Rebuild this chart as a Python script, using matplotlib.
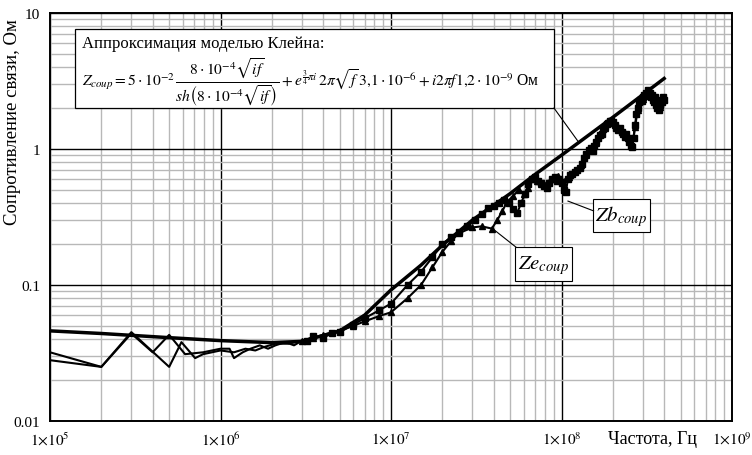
import numpy as np
import matplotlib
matplotlib.use("Agg")
import matplotlib.pyplot as plt
from matplotlib.patches import Rectangle

plt.rcParams['font.family'] = ['Liberation Serif', 'DejaVu Serif']
plt.rcParams['mathtext.fontset'] = 'stix'

# model curve (Klein approximation), MHz / Ohm
model_f = [0.1, 0.2, 0.5, 1, 2, 3, 5, 7, 10, 15, 20, 30, 50, 70, 100, 200, 300, 400]
model_z = [0.046, 0.044, 0.041, 0.039, 0.0377, 0.0385, 0.046, 0.06, 0.092, 0.14, 0.196,
           0.30, 0.47, 0.65, 0.90, 1.71, 2.51, 3.30]

# Zb_coup (squares)
zb_f = [0.1, 0.2, 0.3, 0.4, 0.5, 0.62, 0.79, 1.0, 1.13, 1.2, 1.35, 1.5, 1.7, 1.9, 2.1, 2.4,
        2.7, 2.9, 3.2, 3.5, 4.0, 4.5, 5.0, 6.0, 7.0, 8.5, 10, 12.5, 15, 17.5, 20, 22.5, 25,
        28, 31, 34, 37, 40, 43, 46, 49, 52, 55, 58, 61, 64, 67, 70, 73, 76, 79, 82, 85, 88,
        91, 94, 97, 100, 103, 106, 109, 112, 116, 120, 124, 128, 132, 136, 140, 144, 148,
        152, 156, 160, 164, 168, 172, 176, 180, 184, 188, 192, 196, 200, 205, 210, 215, 220,
        225, 230, 235, 240, 245, 250, 255, 260, 265, 270, 275, 280, 285, 290, 295, 300, 305,
        310, 315, 320, 325, 330, 335, 340, 345, 350, 355, 360, 365, 370, 375, 380, 385, 390,
        395, 400]
zb_z = [0.032, 0.025, 0.044, 0.032, 0.043, 0.031, 0.032, 0.034, 0.034, 0.029, 0.032, 0.034,
        0.036, 0.034, 0.036, 0.038, 0.036, 0.038, 0.039, 0.042, 0.041, 0.044, 0.045, 0.051,
        0.057, 0.065, 0.073, 0.10, 0.125, 0.16, 0.20, 0.225, 0.245, 0.27, 0.30, 0.33, 0.37,
        0.38, 0.40, 0.42, 0.40, 0.36, 0.34, 0.40, 0.47, 0.55, 0.60, 0.62, 0.58, 0.56, 0.53,
        0.52, 0.56, 0.60, 0.62, 0.58, 0.60, 0.56, 0.50, 0.48, 0.60, 0.64, 0.66, 0.68, 0.70,
        0.72, 0.78, 0.86, 0.92, 0.98, 1.02, 0.96, 1.06, 1.12, 1.20, 1.26, 1.30, 1.40, 1.46,
        1.52, 1.56, 1.60, 1.62, 1.58, 1.50, 1.42, 1.38, 1.42, 1.34, 1.30, 1.22, 1.30, 1.20,
        1.12, 1.06, 1.04, 1.20, 1.50, 1.80, 2.00, 2.20, 2.30, 2.25, 2.40, 2.50, 2.45, 2.60,
        2.70, 2.55, 2.60, 2.40, 2.50, 2.30, 2.20, 2.40, 2.10, 2.00, 2.20, 1.95, 2.10, 2.30,
        2.20, 2.40, 2.30]

# Ze_coup (triangles)
ze_f = [0.1, 0.2, 0.3, 0.5, 0.59, 0.71, 0.79, 1.0, 1.2, 1.4, 1.6, 1.8, 2.1, 2.5, 3.0, 3.5,
        4.0, 5.0, 6.0, 7.0, 8.5, 10, 12.5, 15, 17.5, 20, 22.5, 25, 30, 34, 39, 42, 45, 48, 52,
        56, 60, 64, 68, 72, 76, 80, 85, 90, 95, 100, 110, 120, 130, 140, 150, 160, 170, 180,
        190, 200, 210, 220, 230, 240, 250, 260, 270, 280, 290, 300, 310, 320, 330, 340, 350,
        360, 370, 380, 390, 400]
ze_z = [0.028, 0.025, 0.045, 0.025, 0.038, 0.029, 0.031, 0.033, 0.032, 0.034, 0.033, 0.035,
        0.037, 0.037, 0.039, 0.041, 0.043, 0.046, 0.050, 0.054, 0.059, 0.063, 0.08, 0.10,
        0.135, 0.175, 0.21, 0.24, 0.265, 0.27, 0.26, 0.30, 0.35, 0.41, 0.45, 0.50, 0.47, 0.52,
        0.60, 0.58, 0.55, 0.54, 0.57, 0.60, 0.63, 0.58, 0.62, 0.70, 0.76, 0.90, 1.00, 1.10,
        1.28, 1.42, 1.55, 1.60, 1.45, 1.40, 1.32, 1.25, 1.15, 1.08, 1.45, 1.95, 2.25, 2.35,
        2.50, 2.65, 2.50, 2.45, 2.25, 2.15, 2.10, 2.05, 2.25, 2.35]

x_ticks = [1e5, 1e6, 1e7, 1e8, 1e9]
x_labels = [r'$1{\times}10^{5}$', r'$1{\times}10^{6}$', r'$1{\times}10^{7}$',
            r'$1{\times}10^{8}$', r'$1{\times}10^{9}$']
y_ticks = [0.01, 0.1, 1, 10]
y_labels = ['0.01', '0.1', '1', '10']

fig = plt.figure(figsize=(7.52, 4.56), dpi=100)
ax = fig.add_axes([50/752, 34/456, 682/752, 408/456])

# markers are only visible where the measurements get dense
ze_mark = [i for i, f in enumerate(ze_f) if f >= 3]
zb_mark = [i for i, f in enumerate(zb_f) if f >= 3]
ax.plot(np.array(ze_f)*1e6, ze_z, color='black', lw=1.5, marker='^', ms=4,
        markevery=ze_mark, zorder=3)
ax.plot(np.array(zb_f)*1e6, zb_z, color='black', lw=1.5, marker='s', ms=4.5,
        markevery=zb_mark, zorder=3)
ax.plot(np.array(model_f)*1e6, model_z, color='black', lw=2.5, zorder=4)

ax.set_xscale('log')
ax.set_yscale('log')
ax.set_xlim(1e5, 1e9)
ax.set_ylim(0.01, 10)
ax.set_xticks(x_ticks)
ax.set_xticklabels(x_labels, fontsize=11)
ax.set_yticks(y_ticks)
ax.set_yticklabels(y_labels, fontsize=11)
ax.tick_params(which='both', length=0, pad=7)
ax.grid(which='minor', color='#b8b8b8', lw=1.0)
ax.grid(which='major', color='black', lw=1.0)
for s in ax.spines.values():
    s.set_linewidth(1.4)

# formula box
ax.add_patch(Rectangle((0.0367, 0.767), 0.7023, 0.194, transform=ax.transAxes,
                       facecolor='white', edgecolor='black', lw=0.9, zorder=5))
ax.text(0.047, 0.926, 'Аппроксимация моделью Клейна:', transform=ax.transAxes,
        fontsize=12, va='center', ha='left', zorder=6)
formula = (r'$Z_{coup} = 5\cdot10^{-2}\,\dfrac{8\cdot10^{-4}\sqrt{if}}'
           r'{sh\left(8\cdot10^{-4}\sqrt{if}\right)} + e^{\frac{3}{4}\pi i}\,2\pi\sqrt{f}\,'
           r'3{,}1\cdot10^{-6} + i2\pi f1{,}2\cdot10^{-9}$ Ом')
ax.text(0.047, 0.833, formula, transform=ax.transAxes, fontsize=11.2,
        va='center', ha='left', zorder=6)
ax.plot([0.739, 0.774], [0.767, 0.686], transform=ax.transAxes, color='black', lw=0.8, zorder=5)

# Zb label
ax.add_patch(Rectangle((0.796, 0.463), 0.084, 0.081, transform=ax.transAxes,
                       facecolor='white', edgecolor='black', lw=0.8, zorder=5))
ax.text(0.838, 0.503, r'$Zb_{coup}$', transform=ax.transAxes, fontsize=15,
        ha='center', va='center', zorder=6)
ax.plot([0.7595, 0.797], [0.539, 0.515], transform=ax.transAxes, color='black', lw=0.8, zorder=5)

# Ze label
ax.add_patch(Rectangle((0.682, 0.343), 0.083, 0.083, transform=ax.transAxes,
                       facecolor='white', edgecolor='black', lw=0.8, zorder=5))
ax.text(0.7235, 0.384, r'$Ze_{coup}$', transform=ax.transAxes, fontsize=15,
        ha='center', va='center', zorder=6)
ax.plot([0.6496, 0.683], [0.4706, 0.4265], transform=ax.transAxes, color='black', lw=0.8, zorder=5)

fig.text(13/752, 1 - 122/456, 'Сопротивление связи, Ом', rotation=90, fontsize=13.5,
         ha='center', va='center')
fig.text(652/752, 1 - 440/456, 'Частота, Гц', fontsize=13, ha='center', va='center')

fig.savefig('out.png', dpi=100)
